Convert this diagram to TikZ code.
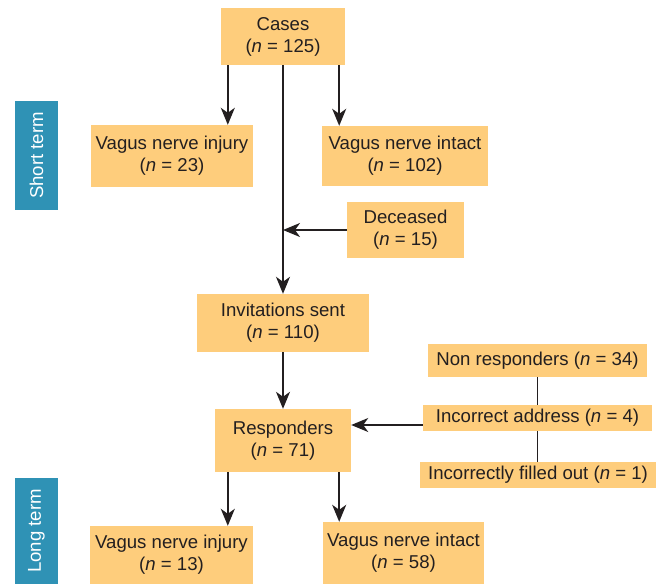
\documentclass[tikz,border=0pt]{standalone}
\usepackage{fontspec}
\setmainfont{Liberation Sans}
\usetikzlibrary{arrows.meta,backgrounds}
\definecolor{boxfill}{HTML}{FECD7C}
\definecolor{termblue}{HTML}{2F92B5}
\definecolor{ink}{HTML}{231F20}
\newcommand{\cnt}[1]{(\textit{n} = #1)}

\begin{document}
\begin{tikzpicture}[x=1pt, y=-1pt]
  \useasboundingbox (0,0) rectangle (661,584);

  \tikzstyle{box}=[fill=boxfill, inner sep=0pt, align=center, text=ink, font=\fontsize{18.6}{22}\selectfont]
  \tikzstyle{term}=[fill=termblue, inner sep=0pt, rotate=90, text=white, minimum height=43pt, font=\fontsize{18.6}{22}\selectfont]
  \tikzstyle{arr}=[draw=ink, line width=1.6pt, -{Stealth[length=17pt, width=14pt, inset=5pt]}]
  \tikzstyle{lnk}=[draw=ink, line width=1.6pt]

  \node[term, minimum width=109pt] (short) at (36.5,155.5) {Short term};
  \node[term, minimum width=106pt] (long) at (36.5,531) {Long term};

  \node[box, minimum width=124pt, minimum height=57pt] (cases) at (283,36.5) {Cases\\\cnt{125}};
  \node[box, minimum width=162pt, minimum height=62pt] (injuryA) at (172,156) {Vagus nerve injury\\\cnt{23}};
  \node[box, minimum width=166pt, minimum height=60pt] (intactA) at (405,156) {Vagus nerve intact\\\cnt{102}};
  \node[box, minimum width=117pt, minimum height=56pt] (deceased) at (405.5,230) {Deceased\\\cnt{15}};
  \node[box, minimum width=172pt, minimum height=58pt] (invit) at (283,323) {Invitations sent\\\cnt{110}};
  \node[box, minimum width=219pt, minimum height=33pt] (nonresp) at (537.5,360.5) {Non responders \cnt{34}};
  \node[box, minimum width=229pt, minimum height=26pt] (addr) at (537.5,418) {Incorrect address \cnt{4}};
  \node[box, minimum width=236pt, minimum height=26pt] (filled) at (538,475) {Incorrectly filled out \cnt{1}};
  \node[box, minimum width=136pt, minimum height=63pt] (resp) at (283,440.5) {Responders\\\cnt{71}};
  \node[box, minimum width=163pt, minimum height=58pt] (injuryB) at (171.5,555) {Vagus nerve injury\\\cnt{13}};
  \node[box, minimum width=161pt, minimum height=62pt] (intactB) at (403.5,553) {Vagus nerve intact\\\cnt{58}};

  \coordinate (c1) at ([xshift=7pt]cases.south west);
  \coordinate (c2) at ([xshift=-6pt]cases.south east);
  \draw[arr] (c1) -- (c1 |- injuryA.north);
  \draw[arr] (c2) -- (c2 |- intactA.north);
  \draw[arr] (cases.south) -- (invit.north);
  \draw[arr] (deceased.west) -- (deceased.west -| cases.south);
  \draw[arr] (invit.south) -- (resp.north);

  \begin{pgfonlayer}{background}
    \draw[lnk] (nonresp.south) -- (nonresp.south |- filled.north);
  \end{pgfonlayer}
  \coordinate (a1) at ([yshift=-7pt]addr.west);
  \draw[arr] (a1) -- (a1 -| resp.east);

  \coordinate (r1) at ([xshift=13pt]resp.south west);
  \coordinate (r2) at ([xshift=-12pt]resp.south east);
  \draw[arr] (r1) -- (r1 |- injuryB.north);
  \draw[arr] (r2) -- (r2 |- intactB.north);
\end{tikzpicture}
\end{document}
